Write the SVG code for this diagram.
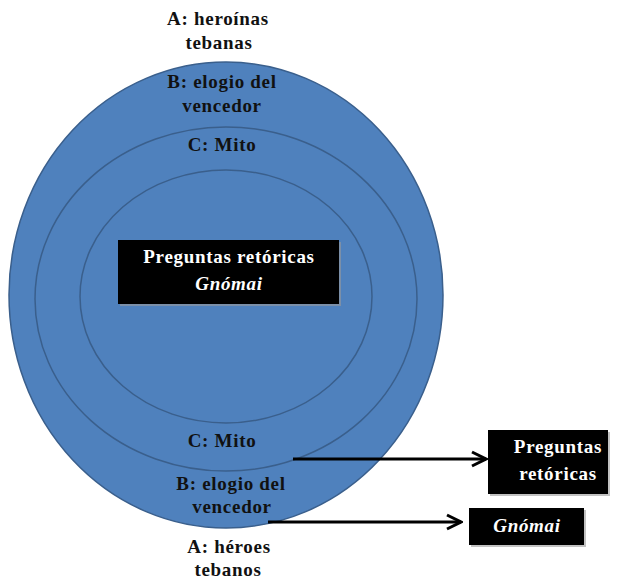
<svg xmlns="http://www.w3.org/2000/svg" width="623" height="582" viewBox="0 0 623 582">
<defs>
<style>
.lbl{font-family:"Liberation Serif","Times New Roman",serif;font-weight:bold;font-size:19px;letter-spacing:0.7px;fill:#111;text-anchor:middle}
.wl{font-family:"Liberation Serif","Times New Roman",serif;font-weight:bold;font-size:19px;letter-spacing:0.7px;fill:#fff;text-anchor:middle}
.ring{fill:none;stroke:#3a5f8c;stroke-width:1.5}
.box{fill:#000}
.shadow{fill:#9a9a9a;opacity:0.6}
.conn{fill:none;stroke:#000;stroke-width:3}
</style>
<marker id="arr" markerWidth="18" markerHeight="18" refX="16" refY="9" orient="auto" markerUnits="userSpaceOnUse" viewBox="0 0 18 18">
<path d="M2,2 L16,9 L2,16" fill="none" stroke="#000" stroke-width="3" stroke-linejoin="miter"/>
</marker>
</defs>
<rect width="623" height="582" fill="#fff"/>
<g id="outer-ring">
<ellipse cx="226" cy="295" rx="217" ry="233" fill="#4f81bd" stroke="#3a5f8c" stroke-width="1.5"/>
</g>
<g id="middle-ring">
<ellipse class="ring" cx="226" cy="299" rx="191" ry="172"/>
</g>
<g id="inner-ring">
<ellipse class="ring" cx="226" cy="296.5" rx="146" ry="126.5"/>
</g>
<g id="top-labels">
<text class="lbl" x="218" y="25">A: heroínas</text>
<text class="lbl" x="219" y="49">tebanas</text>
<text class="lbl" x="222" y="88">B: elogio del</text>
<text class="lbl" x="222" y="112">vencedor</text>
<text class="lbl" x="222" y="151">C: Mito</text>
</g>
<g id="center-box">
<rect class="shadow" x="120" y="242" width="221" height="64"/>
<rect class="box" x="118" y="240" width="221" height="64"/>
<text class="wl" x="229" y="263">Preguntas retóricas</text>
<text class="wl" x="229" y="290" font-style="italic">Gnómai</text>
</g>
<g id="bottom-labels">
<text class="lbl" x="222" y="447">C: Mito</text>
<text class="lbl" x="231" y="490">B: elogio del</text>
<text class="lbl" x="232" y="513">vencedor</text>
<text class="lbl" x="229" y="553">A: héroes</text>
<text class="lbl" x="228" y="576">tebanos</text>
</g>
<g id="connectors">
<line class="conn" x1="293" y1="459" x2="486" y2="459" marker-end="url(#arr)"/>
<line class="conn" x1="268" y1="522" x2="461" y2="522" marker-end="url(#arr)"/>
</g>
<g id="box-preguntas">
<rect class="shadow" x="490" y="432" width="120" height="64"/>
<rect class="box" x="488" y="430" width="120" height="64"/>
<text class="wl" x="558" y="453">Preguntas</text>
<text class="wl" x="558" y="480">retóricas</text>
</g>
<g id="box-gnomai">
<rect class="shadow" x="471" y="510" width="115" height="37"/>
<rect class="box" x="469" y="508" width="115" height="37"/>
<text class="wl" x="527" y="532" font-style="italic">Gnómai</text>
</g>
</svg>
